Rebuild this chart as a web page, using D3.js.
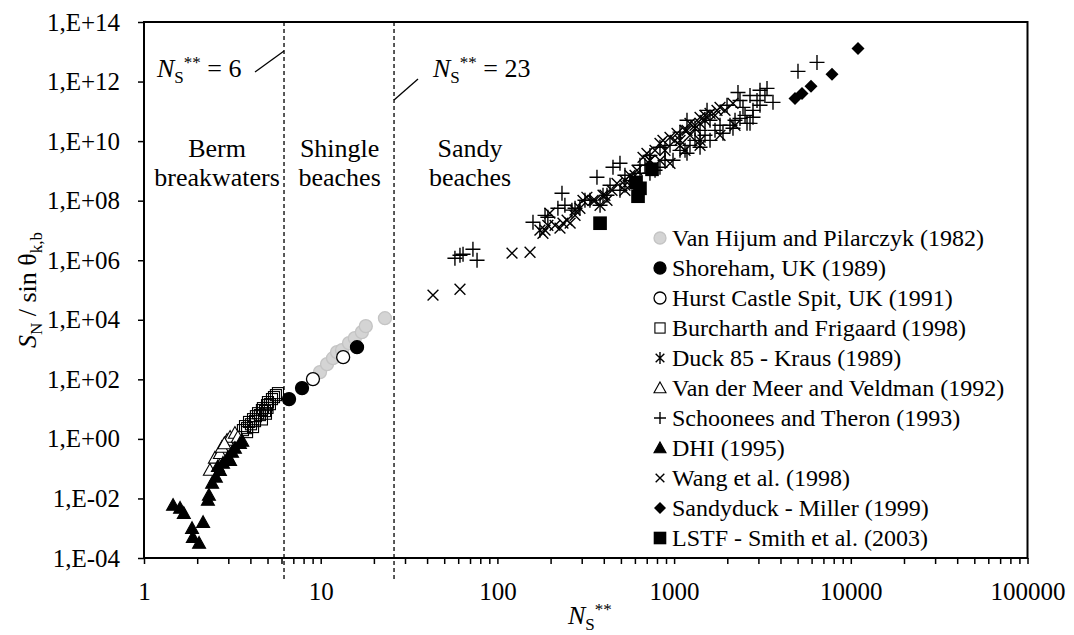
<!DOCTYPE html>
<html>
<head>
<meta charset="utf-8">
<script src="https://cdn.jsdelivr.net/npm/d3@7"></script>
<style>
body { margin: 0; background: #fff; }
svg, svg text { font-family: "Liberation Serif", "Tinos", "Times New Roman", "DejaVu Serif", serif; }
</style>
</head>
<body>
<div id="chart"></div>
<script>
// ---- data: [Ns**, SN / sin theta] ----
var vanHijum = [[9.91,175],[10.86,324],[11.74,513],[12.37,818],[13.2,955],[14.46,1640],[15.6,2415],[17.1,3837],[18.0,6100],[23.1,11300]];
var shoreham = [[6.62,21.7],[7.84,50.7],[16.05,1200]];
var hurst = [[9.04,102],[13.4,556]];
var burcharth = [[3.63,1.97],[3.73,2.69],[3.83,2.3],[3.93,3.7],[4.03,3.1],[4.14,4.6],[4.25,3.95],[4.30,5.8],[4.42,7.3],[4.53,6.3],
  [4.65,9.3],[4.71,10.8],[4.84,8.6],[4.97,13.6],[5.03,17.2],[5.16,14.7],[5.30,21.7],[5.44,25.3],[5.58,29.5],[5.73,34.4],
  [3.83,1.69],[4.14,2.5],[4.65,4.5],[4.90,7],[5.0,11]];
var duck85 = [[174,1.02e7],[293,5.56e7],[396,1.52e8],[527,3.3e8],[730,2.27e9],[888,4.9e9],[1080,1.06e10],[1313,2.7e10],[1496,5.0e10],[1402,1.06e10],[1153,4.9e9]];
var vanDerMeer = [[2.36,0.09],[2.52,0.23],[2.69,0.33],[2.76,0.53],[2.95,0.91],[3.07,1.15],[3.27,1.57],[3.40,1.15],[2.85,0.7]];
var schoonees = [[57.5,1.17e6],[61.4,1.47e6],[63.9,1.59e6],[72.7,2.34e6],[76.7,1.0e6],[159,1.88e7],[193,2.77e7],[220,5.56e7],[264,4.8e7],[275,5.56e7],
  [232,1.77e8],[366,6.1e8],[451,1.32e9],[494,1.8e9],[417,1.52e8],[494,2.23e8],[641,8.3e8],[730,8.3e8],[832,1.32e9],[986,2.27e9],
  [1183,3.9e9],[1402,6.2e9],[1597,1.06e10],[1891,1.83e10],[2154,2.7e10],[2586,3.95e10],[2796,6.3e10],[2689,3.95e10],[2796,1.08e11],[832,6.2e9],
  [1080,2.0e10],[1183,5.0e10],[1536,1.08e11],[1993,1.6e11],[2454,1.36e11],[2299,4.3e11],[2689,3.4e11],[3063,5.1e11],[3356,5.9e11],[3628,2.0e11],
  [2946,2.3e11],[5025,2.2e12],[6437,4.4e12],[334,1.03e8],[381,7.0e7],[563,4.8e8],[684,1.54e9],[780,1.05e9],[888,2.27e9],[1230,7.2e9],
  [1704,2.3e10],[2072,3.4e10],[2360,5.8e10],[186,3.2e7],[241,7.0e7],[313,1.03e8],[434,3.3e8],[527,7.1e8],[641,1.54e9],[730,3.3e9],
  [948,7.2e9],[1080,4.9e9],[1313,1.06e10],[1496,1.57e10],[1819,3.4e10],[2212,5.0e10],[2520,7.3e10],[3063,1.6e11],[3266,3.4e11],[2360,2.3e11],
  [1402,2.3e10],[1597,5.0e10]];
var dhi = [[1.46,6.0e-3],[1.60,4.8e-3],[1.68,3.2e-3],[1.87,1.0e-3],[1.89,5e-4],[2.05,3.2e-4],[2.16,1.6e-3],[2.30,8.9e-3],[2.33,0.013],[2.43,0.033],
  [2.55,0.053],[2.62,0.12],[2.69,0.089],[2.80,0.155],[2.99,0.245],[3.07,0.19],[3.15,0.36],[3.27,0.49],[3.49,0.72],[3.6,0.85]];
var wang = [[43.2,6.7e4],[61.4,1.06e5],[121,1.72e6],[153,1.85e6],[181,8.05e6],[226,1.19e7],[235,1.75e7],[258,1.75e7],[198,3.8e7],[248,2.2e7],
  [305,1.03e8],[321,1.3e8],[348,1.03e8],[417,1.03e8],[475,3.8e8],[617,1.05e9],[667,2.86e9],[702,3.9e9],[832,8.4e9],[865,1.06e10],
  [948,1.34e10],[1039,1.83e10],[1183,2.3e10],[1230,3.95e10],[1402,3.95e10],[1402,6.3e10],[1597,8.6e10],[1749,1.08e11],[1819,1.36e11],[2154,1.85e11],
  [948,1.8e9],[832,2.27e9],[212,1.49e7],[275,3.2e7],[381,7.0e7],[527,2.23e8],[563,7.1e8],[186,1.02e7],[193,1.49e7],[275,4.8e7],
  [357,1.03e8],[406,1.52e8],[445,2.23e8],[527,4.8e8],[601,7.1e8],[730,2.27e9],[780,4.9e9],[1012,1.06e10],[1153,2.3e10],[1313,3.4e10],
  [1496,7.3e10],[1704,7.3e10],[1941,1.08e11],[1230,1.57e10],[1080,7.2e9],[1402,7.2e9],[1819,1.57e10],[2212,3.4e10]];
var sandyduck = [[4833,2.7e11],[5296,4.0e11],[5955,6.9e11],[7829,1.75e12],[10982,1.3e13]];
var lstf = [[381,1.75e7],[625,1.41e8],[609,4.1e8],[750,1.13e9],[641,2.6e8]];

var seriesNames = ["Van Hijum and Pilarczyk (1982)", "Shoreham, UK (1989)", "Hurst Castle Spit, UK (1991)", "Burcharth and Frigaard (1998)",
  "Duck 85 - Kraus (1989)", "Van der Meer and Veldman (1992)", "Schoonees and Theron (1993)", "DHI (1995)",
  "Wang et al. (1998)", "Sandyduck - Miller (1999)", "LSTF - Smith et al. (2003)"];
var seriesData = [vanHijum, shoreham, hurst, burcharth, duck85, vanDerMeer, schoonees, dhi, wang, sandyduck, lstf];
var seriesShape = ["greyCircle", "circle", "openCircle", "openSquare", "star", "openTriangle", "plus", "triangle", "cross", "diamond", "square"];

var yTicks = [1e-4, 1e-2, 1, 1e2, 1e4, 1e6, 1e8, 1e10, 1e12, 1e14];
var xMajor = [1, 10, 100, 1000, 10000, 100000];
var boundaries = [6.2, 26];   // where the dashed lines sit in the picture
var regionLabels = [["Berm", "breakwaters"], ["Shingle", "beaches"], ["Sandy", "beaches"]];
var regionCentres = [2.59, 12.8, 70];

var W = 1074, H = 635;
var margin = { top: 22, right: 46.5, bottom: 77, left: 144 };
var width = W - margin.left - margin.right, height = H - margin.top - margin.bottom;

var svg = d3.select("#chart").append("svg").attr("width", W).attr("height", H);
var g = svg.append("g").attr("transform", "translate(" + margin.left + "," + margin.top + ")");

var x = d3.scaleLog().domain([1, 100000]).range([0, width]);
var y = d3.scaleLog().domain([1e-4, 1e14]).range([height, 0]);

// axes
var xTicks = [];
xMajor.slice(0, -1).forEach(d => { for (var k = 1; k < 10; k++) xTicks.push(d * k); });
xTicks.push(100000);

var xAxis = g.append("g").attr("transform", "translate(0," + height + ")")
  .call(d3.axisBottom(x).tickValues(xTicks).tickSize(6).tickPadding(18)
    .tickFormat(d => xMajor.indexOf(d) >= 0 ? d3.format("d")(d) : ""));
var yAxis = g.append("g")
  .call(d3.axisLeft(y).tickValues(yTicks).tickSize(6).tickPadding(18)
    .tickFormat(d => { var e = Math.round(Math.log10(d)); return "1,E" + (e < 0 ? "-" : "+") + d3.format("02d")(Math.abs(e)); }));
[xAxis, yAxis].forEach(a => {
  a.attr("font-family", null);
  a.select(".domain").remove();
  a.selectAll("line").attr("stroke", "#000").attr("stroke-width", 1.5);
  a.selectAll("text").attr("font-size", 25).attr("fill", "#000");
});

// frame
g.append("rect").attr("width", width).attr("height", height).attr("fill", "none").attr("stroke", "#000").attr("stroke-width", 2);

// dashed boundaries
g.selectAll(".bound").data(boundaries).join("line").attr("class", "bound")
  .attr("x1", d => x(d)).attr("x2", d => x(d)).attr("y1", 0).attr("y2", height + 24)
  .attr("stroke", "#000").attr("stroke-width", 1.3).attr("stroke-dasharray", "4,3");

// region labels
regionLabels.forEach((lines, i) => {
  var t = g.append("text").attr("text-anchor", "middle").attr("font-size", 26).attr("x", x(regionCentres[i])).attr("y", 135);
  lines.forEach((l, j) => t.append("tspan").attr("x", x(regionCentres[i])).attr("dy", j ? 28.5 : 0).text(l));
});

// annotations N_S** = 6 / 23
function nsLabel(px, py, value) {
  var t = g.append("text").attr("x", px).attr("y", py).attr("font-size", 26);
  t.append("tspan").attr("font-style", "italic").text("N");
  t.append("tspan").attr("font-size", 17).attr("dy", 6).text("S");
  t.append("tspan").attr("font-size", 17).attr("dy", -15).text("**");
  t.append("tspan").attr("dy", 9).text(" = " + value);
}
nsLabel(13, 55, "6");
nsLabel(289, 55, "23");
g.append("line").attr("x1", x(boundaries[0]) - 29).attr("y1", 50).attr("x2", x(boundaries[0])).attr("y2", 29).attr("stroke", "#000").attr("stroke-width", 1.3);
g.append("line").attr("x1", x(boundaries[1])).attr("y1", 78).attr("x2", x(boundaries[1]) + 24).attr("y2", 57).attr("stroke", "#000").attr("stroke-width", 1.3);

// markers
function drawMarker(sel, shape, s) {
  var h = s / 2;
  if (shape === "circle" || shape === "openCircle" || shape === "greyCircle") {
    sel.append("circle").attr("r", h)
      .attr("fill", shape === "circle" ? "#000" : shape === "openCircle" ? "#fff" : "#d4d4d4")
      .attr("stroke", shape === "greyCircle" ? "#c4c4c4" : "#000").attr("stroke-width", 1.3);
  } else if (shape === "square" || shape === "openSquare") {
    var q = shape === "square" ? h * 1.05 : h * 0.85;
    sel.append("rect").attr("x", -q).attr("y", -q).attr("width", 2 * q).attr("height", 2 * q)
      .attr("fill", shape === "square" ? "#000" : "none").attr("stroke", "#000").attr("stroke-width", shape === "square" ? 0 : 1.1);
  } else if (shape === "triangle" || shape === "openTriangle") {
    sel.append("path").attr("d", "M0," + (-h) + "L" + h + "," + (h * 0.8) + "L" + (-h) + "," + (h * 0.8) + "Z")
      .attr("fill", shape === "triangle" ? "#000" : "#fff").attr("stroke", "#000").attr("stroke-width", 1.1);
  } else if (shape === "diamond") {
    sel.append("path").attr("d", "M0," + (-h) + "L" + h + ",0L0," + h + "L" + (-h) + ",0Z").attr("fill", "#000");
  } else {
    var p = "";
    if (shape === "plus") p = "M" + (-h) + ",0H" + h + "M0," + (-h) + "V" + h;
    var c = h * 0.72;
    if (shape === "cross" || shape === "star") p = "M" + (-c) + "," + (-c) + "L" + c + "," + c + "M" + (-c) + "," + c + "L" + c + "," + (-c);
    if (shape === "star") p += "M0," + (-h) + "V" + h;
    sel.append("path").attr("d", p).attr("fill", "none").attr("stroke", "#000").attr("stroke-width", 1.4);
  }
}

var plot = g.append("g");
seriesData.forEach((data, i) => {
  var shape = seriesShape[i];
  var size = shape === "plus" || shape === "cross" || shape === "star" ? 15 : 13;
  plot.selectAll(null).data(data).join("g")
    .attr("transform", d => "translate(" + x(d[0]) + "," + y(d[1]) + ")")
    .each(function () { drawMarker(d3.select(this), shape, size); });
});

// legend
var legend = svg.append("g").attr("transform", "translate(660,238)");
seriesNames.forEach((name, i) => {
  var row = legend.append("g").attr("transform", "translate(0," + (i * 30) + ")");
  drawMarker(row.append("g"), seriesShape[i], 12);
  row.append("text").attr("x", 12).attr("dy", "0.35em").attr("font-size", 24).text(name);
});

// axis titles
var xt = svg.append("text").attr("x", 568).attr("y", 624).attr("font-size", 26);
xt.append("tspan").attr("font-style", "italic").text("N");
xt.append("tspan").attr("font-size", 17).attr("dy", 6).text("S");
xt.append("tspan").attr("font-size", 17).attr("dy", -15).text("**");

var yt = svg.append("text").attr("transform", "translate(36," + (margin.top + height / 2) + ") rotate(-90)")
  .attr("text-anchor", "middle").attr("font-size", 26);
yt.append("tspan").attr("font-style", "italic").text("S");
yt.append("tspan").attr("font-size", 17).attr("dy", 6).text("N");
yt.append("tspan").attr("dy", -6).text(" / sin θ");
yt.append("tspan").attr("font-size", 17).attr("dy", 6).text("k,b");
</script>
</body>
</html>
